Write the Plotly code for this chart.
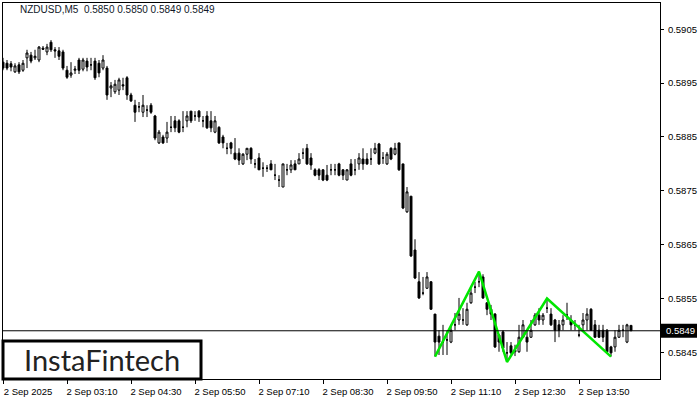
import plotly.graph_objects as go

chart_title = "NZDUSD,M5  0.5850 0.5850 0.5849 0.5849"
logo_text = "InstaFintech"

opens = [
    0.58989, 0.58987, 0.58986, 0.58971, 0.58984, 0.58974, 0.58997, 0.59002, 0.58997, 0.58993,
    0.59015, 0.59008, 0.59026, 0.59012, 0.59010, 0.59008, 0.58974, 0.58965, 0.58974, 0.58993,
    0.58976, 0.58991, 0.58984, 0.58991, 0.58987, 0.58978, 0.58978, 0.58941, 0.58934, 0.58937,
    0.58947, 0.58960, 0.58928, 0.58909, 0.58906, 0.58896, 0.58900, 0.58909, 0.58889, 0.58839,
    0.58850, 0.58848, 0.58868, 0.58880, 0.58880, 0.58868, 0.58880, 0.58898, 0.58889, 0.58898,
    0.58880, 0.58889, 0.58880, 0.58859, 0.58868, 0.58850, 0.58829, 0.58839, 0.58820, 0.58820,
    0.58800, 0.58818, 0.58829, 0.58800, 0.58811, 0.58792, 0.58792, 0.58800, 0.58779, 0.58770,
    0.58757, 0.58789, 0.58789, 0.58800, 0.58800, 0.58820, 0.58829, 0.58811, 0.58789, 0.58789,
    0.58789, 0.58779, 0.58789, 0.58789, 0.58800, 0.58789, 0.58770, 0.58800, 0.58789, 0.58800,
    0.58809, 0.58809, 0.58809, 0.58820, 0.58837, 0.58811, 0.58800, 0.58829, 0.58818, 0.58839,
    0.58800, 0.58711, 0.58740, 0.58640, 0.58581, 0.58560, 0.58569, 0.58581, 0.58521, 0.58480,
    0.58469, 0.58473, 0.58469, 0.58501, 0.58510, 0.58510, 0.58501, 0.58542, 0.58571, 0.58581,
    0.58590, 0.58542, 0.58530, 0.58521, 0.58482, 0.58488, 0.58449, 0.58462, 0.58451, 0.58451,
    0.58478, 0.58478, 0.58478, 0.58501, 0.58519, 0.58510, 0.58532, 0.58521, 0.58510, 0.58501,
    0.58501, 0.58519, 0.58510, 0.58501, 0.58482, 0.58501, 0.58510, 0.58530, 0.58501, 0.58491,
    0.58491, 0.58491, 0.58460, 0.58460, 0.58478, 0.58491, 0.58469, 0.58500,
]
highs = [
    0.58997, 0.58993, 0.58991, 0.58987, 0.58989, 0.58993, 0.59012, 0.59008, 0.59012, 0.59019,
    0.59019, 0.59023, 0.59030, 0.59017, 0.59017, 0.59012, 0.58982, 0.58989, 0.58982, 0.58997,
    0.58997, 0.58997, 0.58997, 0.58997, 0.58993, 0.59002, 0.58982, 0.58952, 0.58956, 0.58960,
    0.58960, 0.58963, 0.58932, 0.58919, 0.58915, 0.58928, 0.58909, 0.58913, 0.58891, 0.58863,
    0.58854, 0.58878, 0.58889, 0.58889, 0.58883, 0.58898, 0.58898, 0.58898, 0.58898, 0.58900,
    0.58889, 0.58898, 0.58898, 0.58889, 0.58870, 0.58854, 0.58839, 0.58841, 0.58848, 0.58829,
    0.58820, 0.58829, 0.58831, 0.58809, 0.58820, 0.58803, 0.58798, 0.58807, 0.58800, 0.58779,
    0.58800, 0.58800, 0.58807, 0.58807, 0.58820, 0.58829, 0.58837, 0.58820, 0.58792, 0.58792,
    0.58790, 0.58798, 0.58800, 0.58800, 0.58802, 0.58790, 0.58790, 0.58809, 0.58809, 0.58820,
    0.58829, 0.58820, 0.58829, 0.58839, 0.58839, 0.58822, 0.58822, 0.58831, 0.58839, 0.58839,
    0.58800, 0.58757, 0.58740, 0.58660, 0.58599, 0.58590, 0.58599, 0.58582, 0.58521, 0.58491,
    0.58501, 0.58490, 0.58501, 0.58523, 0.58551, 0.58532, 0.58542, 0.58569, 0.58581, 0.58600,
    0.58595, 0.58543, 0.58538, 0.58523, 0.58484, 0.58491, 0.58469, 0.58469, 0.58464, 0.58501,
    0.58510, 0.58491, 0.58510, 0.58523, 0.58532, 0.58523, 0.58550, 0.58532, 0.58512, 0.58510,
    0.58519, 0.58542, 0.58519, 0.58510, 0.58501, 0.58523, 0.58532, 0.58532, 0.58510, 0.58501,
    0.58501, 0.58493, 0.58462, 0.58491, 0.58501, 0.58501, 0.58503, 0.58500,
]
lows = [
    0.58974, 0.58974, 0.58972, 0.58969, 0.58967, 0.58971, 0.58978, 0.58987, 0.58993, 0.58989,
    0.59012, 0.59002, 0.59008, 0.58997, 0.58993, 0.58974, 0.58958, 0.58960, 0.58967, 0.58967,
    0.58972, 0.58972, 0.58974, 0.58956, 0.58961, 0.58974, 0.58919, 0.58924, 0.58930, 0.58928,
    0.58937, 0.58919, 0.58915, 0.58878, 0.58896, 0.58887, 0.58887, 0.58893, 0.58844, 0.58837,
    0.58837, 0.58839, 0.58859, 0.58859, 0.58857, 0.58859, 0.58868, 0.58876, 0.58880, 0.58878,
    0.58868, 0.58865, 0.58859, 0.58857, 0.58837, 0.58829, 0.58818, 0.58818, 0.58807, 0.58798,
    0.58798, 0.58807, 0.58800, 0.58792, 0.58789, 0.58776, 0.58785, 0.58789, 0.58770, 0.58757,
    0.58757, 0.58779, 0.58783, 0.58789, 0.58800, 0.58809, 0.58798, 0.58789, 0.58777, 0.58770,
    0.58768, 0.58768, 0.58779, 0.58779, 0.58777, 0.58770, 0.58770, 0.58777, 0.58779, 0.58789,
    0.58789, 0.58798, 0.58798, 0.58818, 0.58798, 0.58800, 0.58798, 0.58807, 0.58816, 0.58787,
    0.58716, 0.58709, 0.58627, 0.58586, 0.58549, 0.58556, 0.58568, 0.58529, 0.58442, 0.58445,
    0.58445, 0.58445, 0.58467, 0.58491, 0.58501, 0.58501, 0.58499, 0.58540, 0.58560, 0.58571,
    0.58549, 0.58519, 0.58510, 0.58458, 0.58451, 0.58451, 0.58432, 0.58447, 0.58443, 0.58449,
    0.58477, 0.58451, 0.58477, 0.58499, 0.58501, 0.58501, 0.58523, 0.58499, 0.58469, 0.58478,
    0.58491, 0.58510, 0.58491, 0.58491, 0.58478, 0.58491, 0.58491, 0.58490, 0.58477, 0.58477,
    0.58469, 0.58449, 0.58442, 0.58451, 0.58477, 0.58478, 0.58467, 0.58490,
]
closes = [
    0.58978, 0.58978, 0.58980, 0.58982, 0.58971, 0.58987, 0.59006, 0.58991, 0.59000, 0.59017,
    0.59013, 0.59017, 0.59012, 0.59010, 0.59000, 0.58978, 0.58961, 0.58969, 0.58976, 0.58974,
    0.58993, 0.58980, 0.58984, 0.58960, 0.58969, 0.58993, 0.58928, 0.58945, 0.58948, 0.58956,
    0.58945, 0.58928, 0.58917, 0.58896, 0.58906, 0.58909, 0.58900, 0.58896, 0.58848, 0.58859,
    0.58839, 0.58859, 0.58868, 0.58867, 0.58859, 0.58868, 0.58889, 0.58880, 0.58889, 0.58887,
    0.58880, 0.58867, 0.58867, 0.58880, 0.58839, 0.58839, 0.58829, 0.58829, 0.58809, 0.58807,
    0.58818, 0.58829, 0.58809, 0.58800, 0.58789, 0.58792, 0.58792, 0.58789, 0.58779, 0.58770,
    0.58800, 0.58789, 0.58798, 0.58789, 0.58809, 0.58820, 0.58800, 0.58798, 0.58779, 0.58779,
    0.58770, 0.58770, 0.58789, 0.58789, 0.58779, 0.58779, 0.58789, 0.58779, 0.58789, 0.58811,
    0.58800, 0.58800, 0.58809, 0.58829, 0.58800, 0.58811, 0.58818, 0.58809, 0.58829, 0.58789,
    0.58718, 0.58748, 0.58629, 0.58588, 0.58551, 0.58560, 0.58590, 0.58530, 0.58469, 0.58469,
    0.58469, 0.58473, 0.58491, 0.58501, 0.58521, 0.58510, 0.58530, 0.58560, 0.58571, 0.58581,
    0.58551, 0.58530, 0.58521, 0.58460, 0.58469, 0.58458, 0.58449, 0.58449, 0.58454, 0.58478,
    0.58501, 0.58469, 0.58491, 0.58519, 0.58510, 0.58519, 0.58532, 0.58501, 0.58491, 0.58491,
    0.58510, 0.58519, 0.58501, 0.58501, 0.58482, 0.58510, 0.58521, 0.58491, 0.58478, 0.58478,
    0.58478, 0.58451, 0.58449, 0.58478, 0.58491, 0.58491, 0.58501, 0.58490,
]

x_tick_index = [0, 16, 32, 48, 64, 80, 96, 112, 128, 144]
x_tick_labels = ["2 Sep 2025", "2 Sep 03:10", "2 Sep 04:30", "2 Sep 05:50", "2 Sep 07:10",
                 "2 Sep 08:30", "2 Sep 09:50", "2 Sep 11:10", "2 Sep 12:30", "2 Sep 13:50"]
y_tick_values = [0.5845, 0.5855, 0.5865, 0.5875, 0.5885, 0.5895, 0.5905]
y_tick_labels = ["0.5845", "0.5855", "0.5865", "0.5875", "0.5885", "0.5895", "0.5905"]

pattern_index = [108, 119, 126, 136, 152]
pattern_price = [0.58442, 0.58600, 0.58432, 0.58550, 0.58442]

current_price = 0.5849
current_price_label = "0.5849"

candle_index = list(range(len(opens)))

fig = go.Figure()
fig.add_trace(go.Candlestick(
    x=candle_index, open=opens, high=highs, low=lows, close=closes,
    increasing=dict(line=dict(color="black", width=1), fillcolor="white"),
    decreasing=dict(line=dict(color="black", width=1), fillcolor="black"),
    whiskerwidth=0, showlegend=False, hoverinfo="skip",
))
fig.add_trace(go.Scatter(
    x=pattern_index, y=pattern_price, mode="lines",
    line=dict(color="#00E600", width=2.5), showlegend=False, hoverinfo="skip",
))

W, H = 700, 400
ml, mr, mt, mb = 3, 40, 3, 21
pw = W - ml - mr
ph = H - mt - mb

fig.add_shape(type="line", xref="paper", yref="y", x0=0, x1=1,
              y0=current_price, y1=current_price, line=dict(color="black", width=1))
# current price tag
fig.add_shape(type="rect", xref="paper", yref="y", x0=1.0015, x1=(697 - ml) / pw,
              y0=current_price - 0.00013, y1=current_price + 0.00013,
              line=dict(width=0), fillcolor="black")
fig.add_annotation(xref="paper", yref="y", x=(664 - ml) / pw, y=current_price,
                   xanchor="left", yanchor="middle", text=current_price_label, showarrow=False,
                   font=dict(family="Liberation Sans, Arial", size=9.5, color="white"))

# logo box
fig.add_shape(type="rect", xref="paper", yref="paper", x0=0, x1=(201 - ml) / pw,
              y0=0, y1=(379 - 341) / ph, line=dict(color="black", width=3), fillcolor="white",
              layer="above")
fig.add_annotation(xref="paper", yref="paper", x=(101.7 - ml) / pw, y=(379 - 359.5) / ph,
                   xanchor="center", yanchor="middle", text=logo_text, showarrow=False,
                   font=dict(family="Lato", size=29, color="#222222"))

# title
fig.add_annotation(xref="paper", yref="paper", x=(18 - ml) / pw, y=(379 - 10) / ph,
                   xanchor="left", yanchor="middle", text=chart_title, showarrow=False,
                   font=dict(family="Liberation Sans, Arial", size=10, color="#101828"))

axis_font = dict(family="Liberation Sans, Arial", size=9.5, color="black")
fig.update_layout(
    width=W, height=H,
    margin=dict(l=ml, r=mr, t=mt, b=mb, pad=0),
    paper_bgcolor="white", plot_bgcolor="white",
    xaxis=dict(range=[0, pw / 4.0], tickmode="array", tickvals=x_tick_index,
               ticktext=x_tick_labels, ticks="outside", ticklen=4, tickcolor="black",
               showgrid=False, zeroline=False, showline=True, mirror=True,
               linecolor="black", linewidth=1, rangeslider=dict(visible=False),
               tickfont=axis_font, ticklabelshift=25, ticklabelstandoff=0),
    yaxis=dict(side="right", range=[0.584004, 0.590989], tickmode="array",
               tickvals=y_tick_values, ticktext=y_tick_labels, ticks="outside", ticklen=3,
               tickcolor="black", showgrid=False, zeroline=False, showline=True, mirror=True,
               linecolor="black", linewidth=1, tickfont=axis_font, ticklabelstandoff=2),
)

fig.write_html("out.html", config={"displayModeBar": False},
               post_script="document.body.style.margin='0';document.body.style.padding='0';")
